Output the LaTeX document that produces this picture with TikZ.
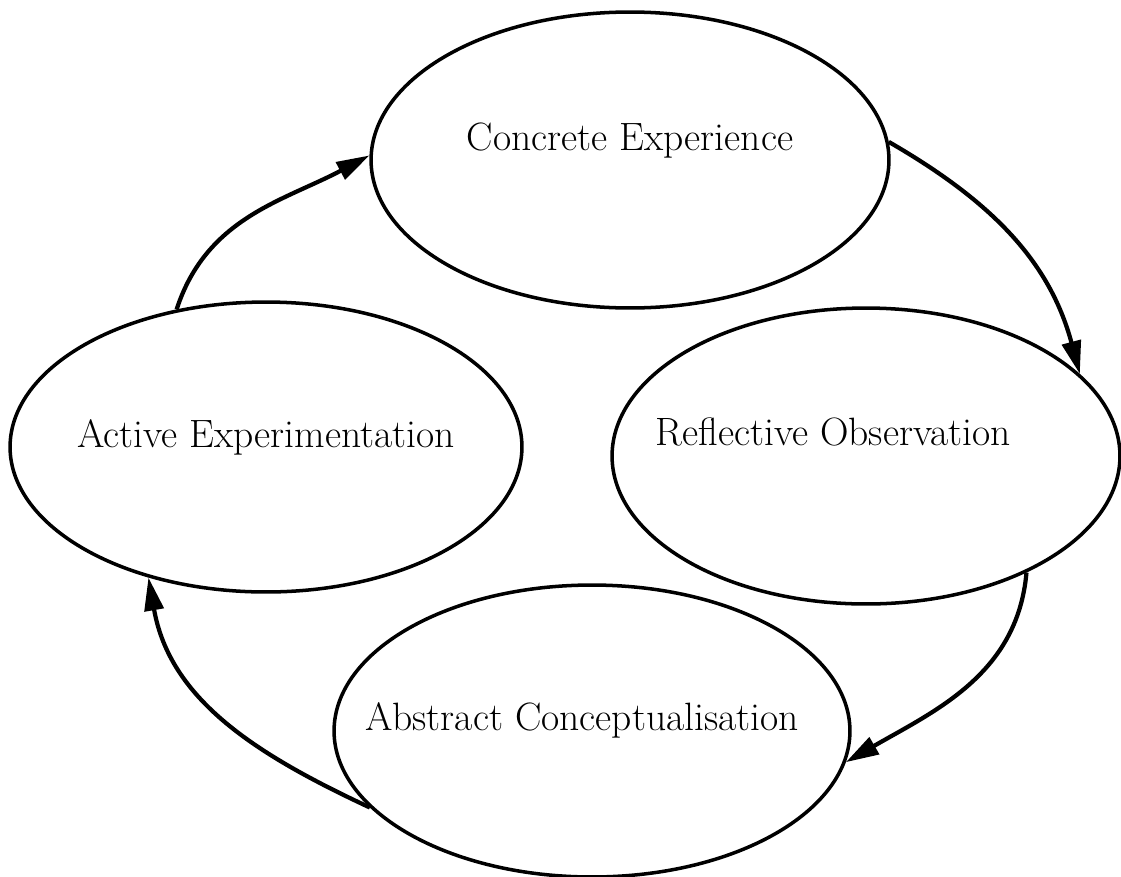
\documentclass[tikz,border=0pt]{standalone}
\usetikzlibrary{shapes.geometric,arrows.meta}
\begin{document}
\begin{tikzpicture}[x=0.02cm,y=-0.02cm,
        stage/.style={ellipse,draw,line width=2pt,inner sep=0pt},
        lbl/.style={font=\fontsize{22.5}{27}\selectfont},
        cyc/.style={line width=2.4pt,-{Triangle[length=0.66cm,width=0.38cm]}}]
                \useasboundingbox(0,0)rectangle(1121,876);
                \node[stage,minimum width=10.36cm,minimum height=5.92cm,
                    label={[lbl,yshift=0.38cm]center:Concrete Experience}](CE)at(630,160){};
                \node[stage,minimum width=10.24cm,minimum height=5.8cm,
                    label={[lbl,yshift=0.2cm]center:Active Experimentation}](AE)at(266,447){};
                \node[stage,minimum width=10.16cm,minimum height=5.92cm,
                    label={[lbl,xshift=-0.66cm,yshift=0.48cm]center:Reflective Observation}](RO)at(866,456){};
                \node[stage,minimum width=10.32cm,minimum height=5.84cm,
                    label={[lbl,xshift=-0.2cm,yshift=0.22cm]center:Abstract Conceptualisation}](AC)at(592,731){};
                \draw[cyc](AE.123)to[out=72,in=208](CE.179);
                \draw[cyc](CE.4)to[out=-30,in=105](RO.21);
                \draw[cyc](RO.-36)to[out=-95,in=30](AC.-7);
                \draw[cyc](AC.199)to[out=155,in=-80](AE.228);
            \end{tikzpicture}
\end{document}
